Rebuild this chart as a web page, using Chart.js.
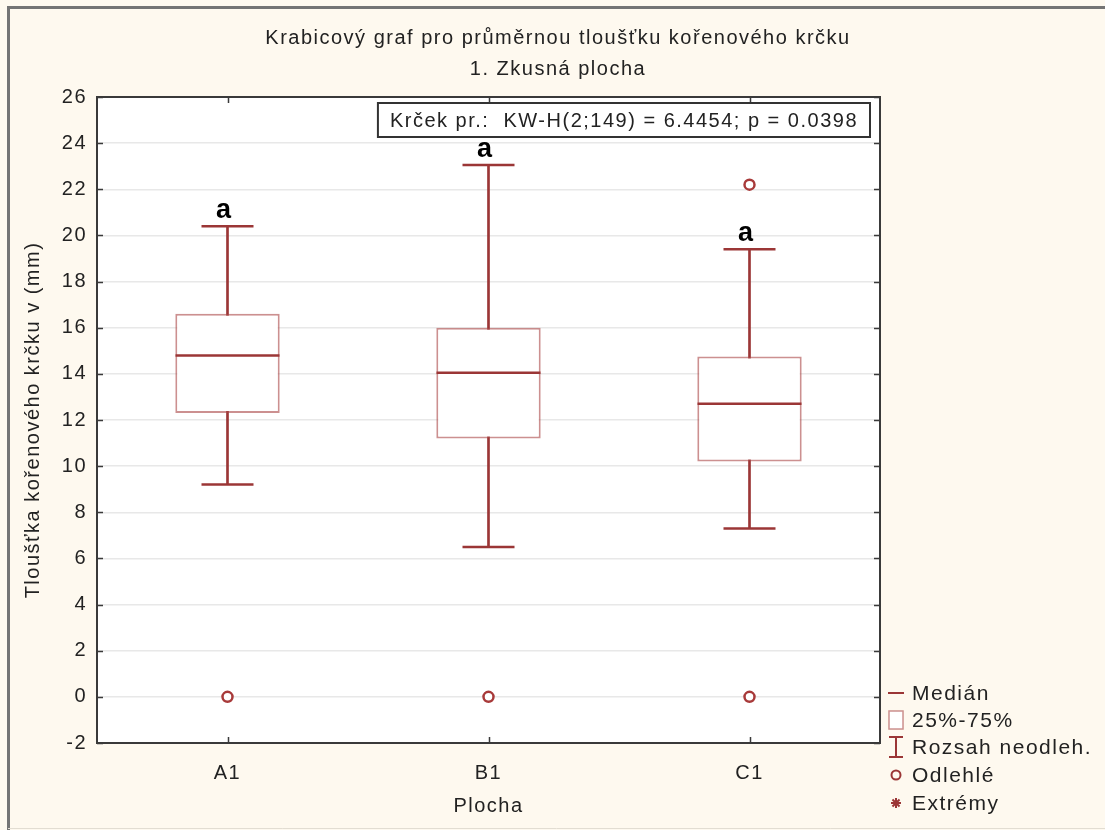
<!DOCTYPE html>
<html>
<head>
<meta charset="utf-8">
<title>Krabicový graf</title>
<script src="https://cdn.jsdelivr.net/npm/chart.js@4.4.1/dist/chart.umd.min.js"></script>
<style>
  body { margin: 0; background: #fef9ef; }
  canvas { display: block; }
</style>
</head>
<body>
<canvas id="boxChart" width="1105" height="830"></canvas>
<script>
// data
const categories = ['A1', 'B1', 'C1'];
const whiskerLow = [9.2, 6.5, 7.3];
const q1 = [12.3, 11.2, 10.2];
const median = [14.8, 14.05, 12.7];
const q3 = [16.6, 16.0, 14.75];
const whiskerHigh = [20.4, 23.05, 19.4];
const outlierCats = ['A1', 'B1', 'C1', 'C1'];
const outlierValues = [0, 0, 0, 22.2];
const groupLetters = ['a', 'a', 'a'];
const yMin = -2, yMax = 26, yStep = 2;

const titleLines = ['Krabicový graf pro průměrnou tloušťku kořenového krčku', '1. Zkusná plocha'];
const statText = 'Krček pr.:  KW-H(2;149) = 6.4454; p = 0.0398';
const legendLabels = ['Medián', '25%-75%', 'Rozsah neodleh.', 'Odlehlé', 'Extrémy'];

const dark = '#9b3636';
const boxLine = 'rgba(170, 70, 70, 0.6)';
const FONT = '"Liberation Sans", Arial, sans-serif';

const decor = {
    id: 'decor',
    beforeDraw(chart) {
        const ctx = chart.ctx;
        const a = chart.chartArea;
        // the reference text is set rather wide
        ctx.letterSpacing = '1.5px';
        ctx.save();
        ctx.fillStyle = '#fef9ef';
        ctx.fillRect(0, 0, chart.width, chart.height);
        // outer frame
        ctx.strokeStyle = '#747474';
        ctx.lineWidth = 3;
        ctx.beginPath();
        ctx.moveTo(8.5, chart.height);
        ctx.lineTo(8.5, 7.5);
        ctx.lineTo(chart.width, 7.5);
        ctx.stroke();
        ctx.strokeStyle = '#e2ddd2';
        ctx.lineWidth = 1;
        ctx.beginPath();
        ctx.moveTo(8, chart.height - 1.5);
        ctx.lineTo(chart.width, chart.height - 1.5);
        ctx.stroke();
        // plot background
        ctx.fillStyle = '#ffffff';
        ctx.fillRect(a.left, a.top, a.right - a.left, a.bottom - a.top);
        ctx.restore();
    },
    afterDatasetsDraw(chart) {
        const ctx = chart.ctx;
        const a = chart.chartArea;
        const xs = chart.scales.x, ys = chart.scales.y;
        ctx.save();
        ctx.strokeStyle = '#3a3a3a';
        ctx.lineWidth = 2;
        ctx.strokeRect(a.left, a.top, a.right - a.left, a.bottom - a.top);
        ctx.lineWidth = 1.5;
        ctx.beginPath();
        ys.ticks.forEach(t => {
            const y = Math.round(ys.getPixelForValue(t.value)) + 0.5;
            ctx.moveTo(a.left, y); ctx.lineTo(a.left + 6, y);
            ctx.moveTo(a.right, y); ctx.lineTo(a.right - 6, y);
        });
        categories.forEach((c, i) => {
            const x = Math.round(xs.getPixelForValue(i)) + 0.5;
            ctx.moveTo(x, a.bottom); ctx.lineTo(x, a.bottom - 6);
            ctx.moveTo(x, a.top); ctx.lineTo(x, a.top + 6);
        });
        ctx.stroke();
        ctx.restore();
    },
    afterDraw(chart) {
        const ctx = chart.ctx;
        const a = chart.chartArea;
        const xs = chart.scales.x, ys = chart.scales.y;
        ctx.save();

        // title
        ctx.fillStyle = '#222';
        ctx.font = '20px ' + FONT;
        ctx.textAlign = 'center';
        ctx.textBaseline = 'middle';
        ctx.fillText(titleLines[0], 558, 38);
        ctx.fillText(titleLines[1], 558, 69);

        // group letters above the whiskers
        ctx.font = 'bold 27px ' + FONT;
        ctx.fillStyle = '#000';
        ctx.textBaseline = 'alphabetic';
        ctx.letterSpacing = '0px';
        groupLetters.forEach((l, i) => {
            ctx.fillText(l, xs.getPixelForValue(i) - 4, ys.getPixelForValue(whiskerHigh[i]) - 8);
        });
        ctx.letterSpacing = '1.5px';

        // statistic box
        ctx.font = '20px ' + FONT;
        const w = ctx.measureText(statText).width + 24;
        const bx = a.right - 10 - w, by = a.top + 6, bh = 34;
        ctx.fillStyle = '#fff';
        ctx.fillRect(bx, by, w, bh);
        ctx.strokeStyle = '#333';
        ctx.lineWidth = 2;
        ctx.strokeRect(bx, by, w, bh);
        ctx.fillStyle = '#222';
        ctx.textAlign = 'left';
        ctx.textBaseline = 'middle';
        ctx.fillText(statText, bx + 12, by + bh / 2 + 1);

        // legend
        const lx = a.right + 8, sx = lx + 8;
        const rows = [a.bottom - 50, a.bottom - 23, a.bottom + 4, a.bottom + 32, a.bottom + 60];
        ctx.font = '21px ' + FONT;
        legendLabels.forEach((t, i) => ctx.fillText(t, lx + 24, rows[i] + 1));
        ctx.strokeStyle = dark;
        ctx.lineWidth = 2;
        ctx.beginPath();
        ctx.moveTo(lx, rows[0]); ctx.lineTo(lx + 16, rows[0]);
        ctx.stroke();
        ctx.fillStyle = '#fff';
        ctx.strokeStyle = boxLine;
        ctx.lineWidth = 1.5;
        ctx.fillRect(lx + 1, rows[1] - 9, 14, 18);
        ctx.strokeRect(lx + 1, rows[1] - 9, 14, 18);
        ctx.strokeStyle = dark;
        ctx.lineWidth = 2;
        ctx.beginPath();
        ctx.moveTo(sx, rows[2] - 10); ctx.lineTo(sx, rows[2] + 10);
        ctx.moveTo(lx + 1, rows[2] - 10); ctx.lineTo(lx + 15, rows[2] - 10);
        ctx.moveTo(lx + 1, rows[2] + 10); ctx.lineTo(lx + 15, rows[2] + 10);
        ctx.stroke();
        ctx.beginPath();
        ctx.arc(sx, rows[3], 4.5, 0, Math.PI * 2);
        ctx.stroke();
        ctx.beginPath();
        for (let k = 0; k < 4; k++) {
            const ang = k * Math.PI / 4;
            ctx.moveTo(sx + Math.cos(ang) * 5, rows[4] + Math.sin(ang) * 5);
            ctx.lineTo(sx - Math.cos(ang) * 5, rows[4] - Math.sin(ang) * 5);
        }
        ctx.stroke();
        ctx.restore();
    }
};

const ctx = document.getElementById('boxChart').getContext('2d');
const boxChart = new Chart(ctx, {
    data: {
        labels: categories,
        datasets: [
            {
                type: 'bar',
                label: 'whisker',
                data: categories.map((c, i) => [whiskerLow[i], whiskerHigh[i]]),
                backgroundColor: dark,
                borderWidth: 0,
                barThickness: 2,
                grouped: false,
                order: 5
            },
            {
                type: 'bar',
                label: 'box',
                data: categories.map((c, i) => [q1[i], q3[i]]),
                backgroundColor: '#ffffff',
                borderColor: boxLine,
                borderWidth: 2,
                borderSkipped: false,
                barPercentage: 0.4,
                categoryPercentage: 1,
                grouped: false,
                order: 4
            },
            {
                type: 'line',
                label: 'median',
                data: median,
                showLine: false,
                pointStyle: 'line',
                pointRadius: 52,
                pointHoverRadius: 52,
                pointBorderWidth: 2.5,
                pointBorderColor: dark,
                order: 1
            },
            {
                type: 'line',
                label: 'capHigh',
                data: whiskerHigh,
                showLine: false,
                pointStyle: 'line',
                pointRadius: 26,
                pointHoverRadius: 26,
                pointBorderWidth: 2.5,
                pointBorderColor: dark,
                order: 2
            },
            {
                type: 'line',
                label: 'capLow',
                data: whiskerLow,
                showLine: false,
                pointStyle: 'line',
                pointRadius: 26,
                pointHoverRadius: 26,
                pointBorderWidth: 2.5,
                pointBorderColor: dark,
                order: 2
            },
            {
                type: 'line',
                label: 'outliers',
                data: outlierCats.map((c, i) => ({ x: c, y: outlierValues[i] })),
                showLine: false,
                pointStyle: 'circle',
                pointRadius: 5,
                pointHoverRadius: 5,
                pointBorderWidth: 2.5,
                pointBorderColor: '#a83a3a',
                pointBackgroundColor: '#ffffff',
                order: 0
            }
        ]
    },
    options: {
        responsive: false,
        animation: false,
        events: [],
        layout: {
            padding: { top: 97, right: 225, left: 0, bottom: 0 }
        },
        plugins: {
            legend: { display: false },
            tooltip: { enabled: false },
            title: { display: false }
        },
        scales: {
            x: {
                type: 'category',
                offset: true,
                grid: { display: false, drawTicks: false },
                border: { display: false },
                ticks: {
                    color: '#222',
                    font: { family: FONT, size: 20 },
                    padding: 18
                },
                title: {
                    display: true,
                    text: 'Plocha',
                    color: '#222',
                    font: { family: FONT, size: 20 },
                    padding: { bottom: 12 }
                },
                afterFit: scale => { scale.height = 87; }
            },
            y: {
                min: yMin,
                max: yMax,
                grid: { color: '#e8e8e8', lineWidth: 1.5, drawTicks: false },
                border: { display: false },
                ticks: {
                    stepSize: yStep,
                    color: '#222',
                    font: { family: FONT, size: 20 },
                    padding: 10
                },
                title: {
                    display: true,
                    text: 'Tloušťka kořenového krčku v (mm)',
                    color: '#222',
                    font: { family: FONT, size: 20 },
                    padding: { top: 21 }
                },
                afterFit: scale => { scale.width = 97; }
            }
        }
    },
    plugins: [decor]
});
</script>
</body>
</html>
